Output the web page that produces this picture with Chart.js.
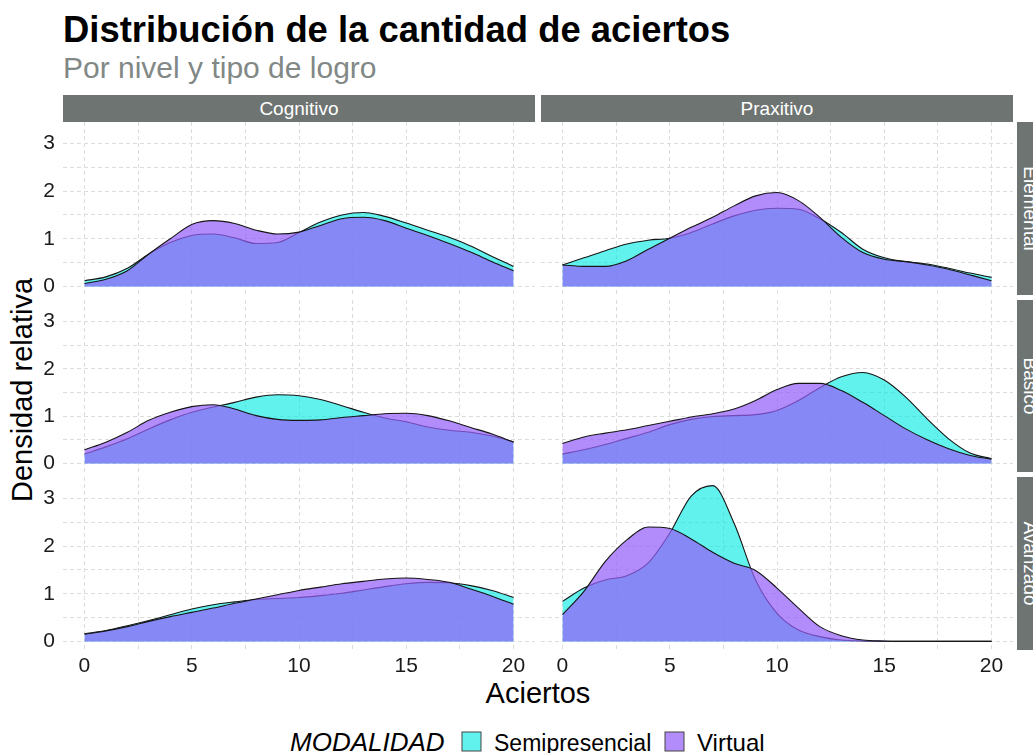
<!DOCTYPE html>
<html>
<head>
<meta charset="utf-8">
<script src="https://cdn.jsdelivr.net/npm/chart.js@4.4.0/dist/chart.umd.min.js"></script>
<style>
  body { margin: 0; background: #fff; width: 1033px; height: 753px; overflow: hidden; position: relative; font-family: "Liberation Sans", Arial, sans-serif; }
  canvas { position: absolute; }
  svg { position: absolute; left: 0; top: 0; }
</style>
</head>
<body>
<svg id="txt" width="1033" height="753"></svg>
<script>
// x values where the densities were read (aciertos)
const aciertos = [0,1,2,3,4,5,6,7,8,9,10,11,12,13,14,15,16,17,18,19,20];
const xGrid = [0,2.5,5,7.5,10,12.5,15,17.5,20];
const yGrid = [0,0.5,1,1.5,2,2.5,3];

const tipos = ["Cognitivo", "Praxitivo"];
const niveles = ["Elemental", "Basico", "Avanzado"];
const series = ["Semipresencial", "Virtual"];

// densidad relativa
const semiCogElemental = [0.12,0.2,0.38,0.68,0.92,1.07,1.1,1.02,0.9,0.92,1.13,1.35,1.5,1.55,1.47,1.33,1.18,1.03,0.85,0.63,0.42];
const virtCogElemental = [0.06,0.15,0.33,0.68,1.0,1.3,1.38,1.32,1.18,1.1,1.14,1.28,1.42,1.45,1.38,1.22,1.07,0.9,0.72,0.52,0.33];
const semiPraxElemental = [0.45,0.6,0.75,0.89,0.97,1.01,1.13,1.31,1.48,1.6,1.64,1.62,1.42,1.13,0.78,0.6,0.52,0.47,0.38,0.28,0.19];
const virtPraxElemental = [0.45,0.42,0.42,0.54,0.78,1.01,1.24,1.45,1.69,1.9,1.97,1.8,1.45,1.03,0.71,0.57,0.52,0.45,0.36,0.24,0.12];

const semiCogBasico = [0.2,0.35,0.52,0.73,0.92,1.08,1.19,1.29,1.4,1.45,1.43,1.35,1.22,1.08,0.96,0.88,0.77,0.7,0.66,0.58,0.46];
const virtCogBasico = [0.29,0.45,0.66,0.91,1.08,1.2,1.24,1.15,1.01,0.93,0.91,0.92,0.97,1.01,1.05,1.06,1.01,0.9,0.76,0.62,0.45];
const semiPraxBasico = [0.2,0.29,0.4,0.53,0.66,0.82,0.93,0.99,1.01,1.03,1.12,1.33,1.6,1.83,1.92,1.76,1.4,0.94,0.52,0.22,0.1];
const virtPraxBasico = [0.42,0.56,0.64,0.71,0.8,0.89,0.98,1.05,1.15,1.33,1.56,1.69,1.69,1.54,1.29,1.01,0.73,0.5,0.31,0.17,0.09];

const semiCogAvanzado = [0.16,0.23,0.33,0.44,0.56,0.68,0.77,0.83,0.88,0.9,0.92,0.96,1.01,1.08,1.15,1.21,1.24,1.23,1.17,1.07,0.92];
const virtCogAvanzado = [0.15,0.22,0.31,0.42,0.52,0.61,0.7,0.8,0.89,0.98,1.07,1.14,1.21,1.26,1.31,1.33,1.3,1.24,1.1,0.95,0.78];
const semiPraxAvanzado = [0.84,1.12,1.29,1.38,1.65,2.27,3.05,3.27,2.48,1.29,0.59,0.24,0.1,0.03,0.01,0,0,0,0,0,0];
const virtPraxAvanzado = [0.56,1.05,1.68,2.13,2.4,2.37,2.15,1.87,1.64,1.49,1.12,0.7,0.31,0.12,0.03,0.01,0,0,0,0,0];

const panelData = [
  [[semiCogElemental, virtCogElemental], [semiPraxElemental, virtPraxElemental]],
  [[semiCogBasico, virtCogBasico], [semiPraxBasico, virtPraxBasico]],
  [[semiCogAvanzado, virtCogAvanzado], [semiPraxAvanzado, virtPraxAvanzado]]
];

const semiFill = "rgba(0,234,228,0.62)";
const virtFill = "rgba(148,95,248,0.72)";
const stripGrey = "#6e7471";
const gridGrey = "#dcdcdc";

// panel boxes in page pixels
const colLeft = [63, 541];
const colWidth = 472;
const rowTop = [122, 300, 477];
const rowHeight = [173, 172, 173];

Chart.defaults.font.family = '"Liberation Sans", Arial, sans-serif';

const pts = ys => aciertos.map((x, i) => ({ x: x, y: ys[i] }));

for (let r = 0; r < 3; r++) {
  for (let c = 0; c < 2; c++) {
    const isLeft = c === 0;
    const isBottom = r === 2;
    const yAxisW = isLeft ? 43 : 0;
    const xAxisH = isBottom ? 34 : 0;

    const cv = document.createElement("canvas");
    const w = colWidth + yAxisW;
    const h = rowHeight[r] + xAxisH;
    cv.width = w;
    cv.height = h;
    cv.style.left = (colLeft[c] - yAxisW) + "px";
    cv.style.top = rowTop[r] + "px";
    cv.style.width = w + "px";
    cv.style.height = h + "px";
    document.body.appendChild(cv);

    const [semi, virt] = panelData[r][c];

    new Chart(cv.getContext("2d"), {
      type: "line",
      data: {
        datasets: [
          {
            label: series[0],
            data: pts(semi),
            fill: "origin",
            backgroundColor: semiFill,
            borderColor: "#151515",
            borderWidth: 1.1,
            pointRadius: 0,
            cubicInterpolationMode: "monotone",
            order: 1
          },
          {
            label: series[1],
            data: pts(virt),
            fill: "origin",
            backgroundColor: virtFill,
            borderColor: "#151515",
            borderWidth: 1.1,
            pointRadius: 0,
            cubicInterpolationMode: "monotone",
            order: 0
          }
        ]
      },
      options: {
        responsive: false,
        animation: false,
        layout: { padding: 0 },
        plugins: { legend: { display: false }, tooltip: { enabled: false } },
        scales: {
          x: {
            type: "linear",
            min: -1,
            max: 21,
            afterBuildTicks: s => { s.ticks = xGrid.map(v => ({ value: v })); },
            afterFit: s => { s.height = xAxisH; s.paddingLeft = 0; s.paddingRight = 0; },
            grid: { color: gridGrey, lineWidth: 1, drawTicks: false },
            border: { display: false, dash: [4, 3] },
            ticks: {
              display: isBottom,
              autoSkip: false,
              maxRotation: 0,
              padding: 4,
              color: "#1a1a1a",
              font: { size: 21 },
              callback: v => (v % 5 === 0 ? v : "")
            }
          },
          y: {
            min: -0.18,
            max: 3.45,
            afterBuildTicks: s => { s.ticks = yGrid.map(v => ({ value: v })); },
            afterFit: s => { s.width = yAxisW; s.paddingTop = 0; s.paddingBottom = 0; },
            grid: { color: gridGrey, lineWidth: 1, drawTicks: false },
            border: { display: false, dash: [4, 3] },
            ticks: {
              display: isLeft,
              autoSkip: false,
              padding: 8,
              color: "#1a1a1a",
              font: { size: 21 },
              callback: v => (Number.isInteger(v) ? v : "")
            }
          }
        }
      }
    });
  }
}

// titles, strips and legend as svg text
const svg = document.getElementById("txt");
const NS = "http://www.w3.org/2000/svg";
function el(tag, attrs, text) {
  const e = document.createElementNS(NS, tag);
  for (const k in attrs) e.setAttribute(k, attrs[k]);
  if (text !== undefined) e.textContent = text;
  svg.appendChild(e);
  return e;
}
const ff = '"Liberation Sans", Arial, sans-serif';

el("text", { x: 63, y: 42, "font-family": ff, "font-size": 36.4, "font-weight": "bold", fill: "#000" }, "Distribución de la cantidad de aciertos");
el("text", { x: 63, y: 78, "font-family": ff, "font-size": 30, fill: "#818886" }, "Por nivel y tipo de logro");

// top strips
tipos.forEach((t, c) => {
  el("rect", { x: colLeft[c], y: 95, width: colWidth, height: 27, fill: stripGrey });
  el("text", { x: colLeft[c] + colWidth / 2, y: 108.5, "font-family": ff, "font-size": 19, fill: "#fff", "text-anchor": "middle", "dominant-baseline": "central" }, t);
});
// right strips
niveles.forEach((n, r) => {
  el("rect", { x: 1017, y: rowTop[r], width: 27, height: rowHeight[r], fill: stripGrey });
  const cy = rowTop[r] + rowHeight[r] / 2;
  el("text", { x: 1030.5, y: cy, "font-family": ff, "font-size": 19, fill: "#fff", "text-anchor": "middle", "dominant-baseline": "central", transform: "rotate(90 1030.5 " + cy + ")" }, n);
});

// axis titles
el("text", { x: 22, y: 390, "font-family": ff, "font-size": 29, fill: "#000", "text-anchor": "middle", "dominant-baseline": "central", transform: "rotate(-90 22 390)" }, "Densidad relativa");
el("text", { x: 538, y: 703, "font-family": ff, "font-size": 29, fill: "#000", "text-anchor": "middle" }, "Aciertos");

// legend
el("text", { x: 290, y: 751, "font-family": ff, "font-size": 26, "font-style": "italic", fill: "#000" }, "MODALIDAD");
el("rect", { x: 462, y: 732, width: 19, height: 19, fill: semiFill, stroke: "#444", "stroke-width": 1 });
el("text", { x: 494, y: 751, "font-family": ff, "font-size": 23, fill: "#000" }, series[0]);
el("rect", { x: 665, y: 732, width: 19, height: 19, fill: virtFill, stroke: "#444", "stroke-width": 1 });
el("text", { x: 697, y: 751, "font-family": ff, "font-size": 24, fill: "#000" }, series[1]);
</script>
</body>
</html>
